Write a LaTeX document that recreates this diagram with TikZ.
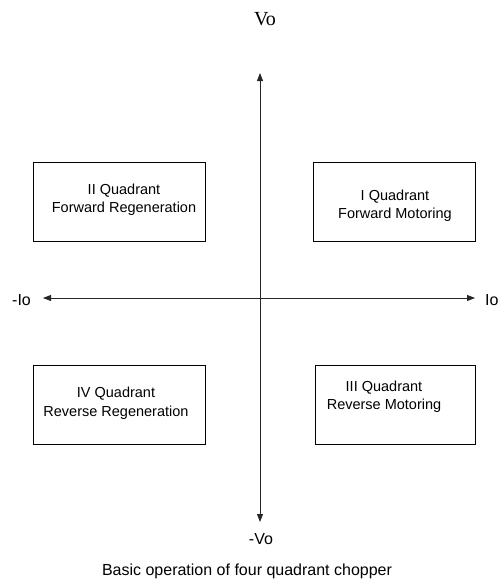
\documentclass[tikz,border=0pt]{standalone}
\usepackage{fontspec}
\setmainfont{Liberation Sans}
\newfontfamily\seriffont{Liberation Serif}
\usetikzlibrary{arrows.meta}

\tikzset{
  axis/.style={line width=0.8pt, draw=black!85, {Triangle[length=8pt,width=6pt]}-{Triangle[length=8pt,width=6pt]}},
  quadbox/.style={draw=black, line width=0.8pt, rectangle, inner sep=0pt},
  quadtext/.style={font=\fontsize{14.5}{18}\selectfont, align=center, inner sep=0pt, anchor=base},
  axislabel/.style={font=\fontsize{16}{19}\selectfont, inner sep=0pt, anchor=base},
}

\begin{document}
\begin{tikzpicture}[x=1pt,y=-1pt]
  \useasboundingbox (0,0) rectangle (498,581);

  % axis end points
  \coordinate (top) at (260,73);
  \coordinate (bottom) at (260,522);
  \coordinate (left) at (43,298);
  \coordinate (right) at (475,298);

  % axes
  \draw[axis] (bottom) -- (top);
  \draw[axis] (left) -- (right);

  % axis labels
  \node[font=\seriffont\fontsize{20}{24}\selectfont, inner sep=0pt, anchor=base] (vo) at (265,25) {Vo};
  \node[axislabel] (mvo) at (261,544) {-Vo};
  \node[axislabel, anchor=base west] (io) at (485,305) {Io};
  \node[axislabel, anchor=base west] (mio) at (12,305) {-Io};

  % quadrant boxes
  \node[quadbox, minimum width=172pt, minimum height=79pt] (q2) at (119,201.5) {};
  \node[quadbox, minimum width=162pt, minimum height=79pt] (q1) at (394,201.5) {};
  \node[quadbox, minimum width=172pt, minimum height=79pt] (q4) at (119,404.5) {};
  \node[quadbox, minimum width=160pt, minimum height=79pt] (q3) at (395,404.5) {};

  % quadrant descriptions
  \node[quadtext] (q2a) at (124,194) {II Quadrant};
  \node[quadtext] (q2b) at (124,212) {Forward Regeneration};
  \node[quadtext] (q1a) at (395,200) {I Quadrant};
  \node[quadtext] (q1b) at (395,218) {Forward Motoring};
  \node[quadtext] (q4a) at (116,397) {IV Quadrant};
  \node[quadtext] (q4b) at (116,416) {Reverse Regeneration};
  \node[quadtext] (q3a) at (384,391) {III Quadrant};
  \node[quadtext] (q3b) at (384,409) {Reverse Motoring};

  % caption
  \node[axislabel] (cap) at (247,575) {Basic operation of four quadrant chopper};
\end{tikzpicture}
\end{document}
